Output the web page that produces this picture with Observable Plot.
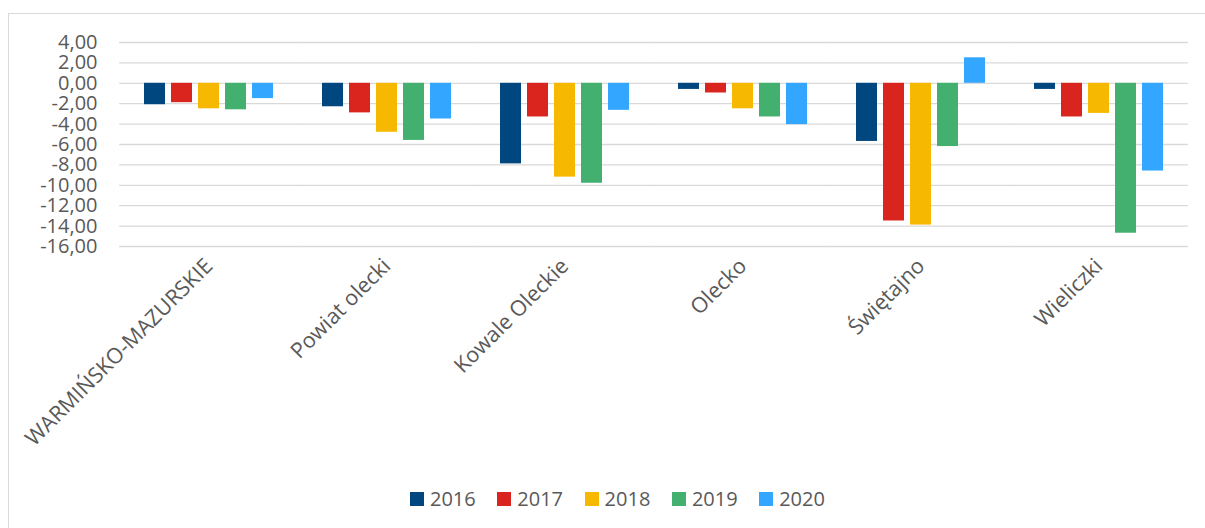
<!DOCTYPE html>
<html><head><meta charset="utf-8">
<script src="https://cdn.jsdelivr.net/npm/d3@7"></script>
<script src="https://cdn.jsdelivr.net/npm/@observablehq/plot@0.6"></script>
<style>
html,body{margin:0;padding:0;background:#fff;width:1205px;height:528px;overflow:hidden;font-family:"Open Sans",sans-serif;}
#frame{position:absolute;left:8px;top:13px;width:1300px;height:600px;border-left:1px solid #d9d9d9;border-top:1px solid #d9d9d9;}
#chart{position:absolute;left:0;top:0;}
#legend{position:absolute;left:410px;top:486px;display:flex;font-size:20px;color:#595959;line-height:26px;}
.item{display:flex;align-items:center;width:87.3px;}
.sw{width:14px;height:14px;margin-right:6px;flex:none;}
</style></head><body>
<div id="frame"></div><div id="chart"></div><div id="legend"></div>
<script>
const categories = ["WARMIŃSKO-MAZURSKIE", "Powiat olecki", "Kowale Oleckie", "Olecko", "Świętajno", "Wieliczki"];
const years = ["2016", "2017", "2018", "2019", "2020"];
const colors = ["#00477f", "#da251f", "#f6b800", "#44b06f", "#33a6ff"];
const v2016 = [-2.1, -2.3, -7.9, -0.6, -5.7, -0.6];
const v2017 = [-1.9, -2.9, -3.3, -0.95, -13.5, -3.3];
const v2018 = [-2.5, -4.8, -9.2, -2.5, -13.9, -2.95];
const v2019 = [-2.6, -5.6, -9.8, -3.3, -6.2, -14.7];
const v2020 = [-1.5, -3.5, -2.65, -4.05, 2.5, -8.6];
const yTicks = [4, 2, 0, -2, -4, -6, -8, -10, -12, -14, -16];

const series = [v2016, v2017, v2018, v2019, v2020];
const data = [];
categories.forEach((c, i) => years.forEach((y, j) => data.push({cat: c, year: y, value: series[j][i]})));

const fmt = d3.formatLocale({decimal: ",", thousands: " ", grouping: [3], currency: ["", " zł"], minus: "-"}).format(".2f");

const plot = Plot.plot({
  width: 1205, height: 470,
  marginLeft: 118, marginRight: 16, marginTop: 42, marginBottom: 224,
  style: {fontFamily: "Open Sans", fontSize: "20px", color: "#595959", background: "transparent"},
  fx: {domain: categories, paddingInner: 0.266, paddingOuter: 0.133, label: null},
  x: {domain: years, paddingInner: 0.21, paddingOuter: 0, axis: null},
  y: {domain: [-16, 4], label: null},
  color: {domain: years, range: colors},
  marks: [
    Plot.ruleY(yTicks, {stroke: "#d9d9d9", strokeWidth: 1.3, insetLeft: -23.8, insetRight: -23.8}),
    Plot.barY(data, {fx: "cat", x: "year", y: "value", fill: "year"}),
    Plot.axisY({ticks: yTicks, tickFormat: fmt, tickSize: 0, tickPadding: 46, fontSize: 20, label: null, fill: "#595959"}),
    Plot.axisFx({anchor: "bottom", tickRotate: -45, tickSize: 0, tickPadding: 16, fontSize: 21.5, label: null, fill: "#595959"})
  ]
});
document.getElementById("chart").appendChild(plot);

const legend = document.getElementById("legend");
years.forEach((y, j) => {
  const it = document.createElement("div"); it.className = "item";
  const sw = document.createElement("span"); sw.className = "sw"; sw.style.background = colors[j];
  const t = document.createElement("span"); t.textContent = y;
  it.appendChild(sw); it.appendChild(t); legend.appendChild(it);
});
</script>
</body></html>
